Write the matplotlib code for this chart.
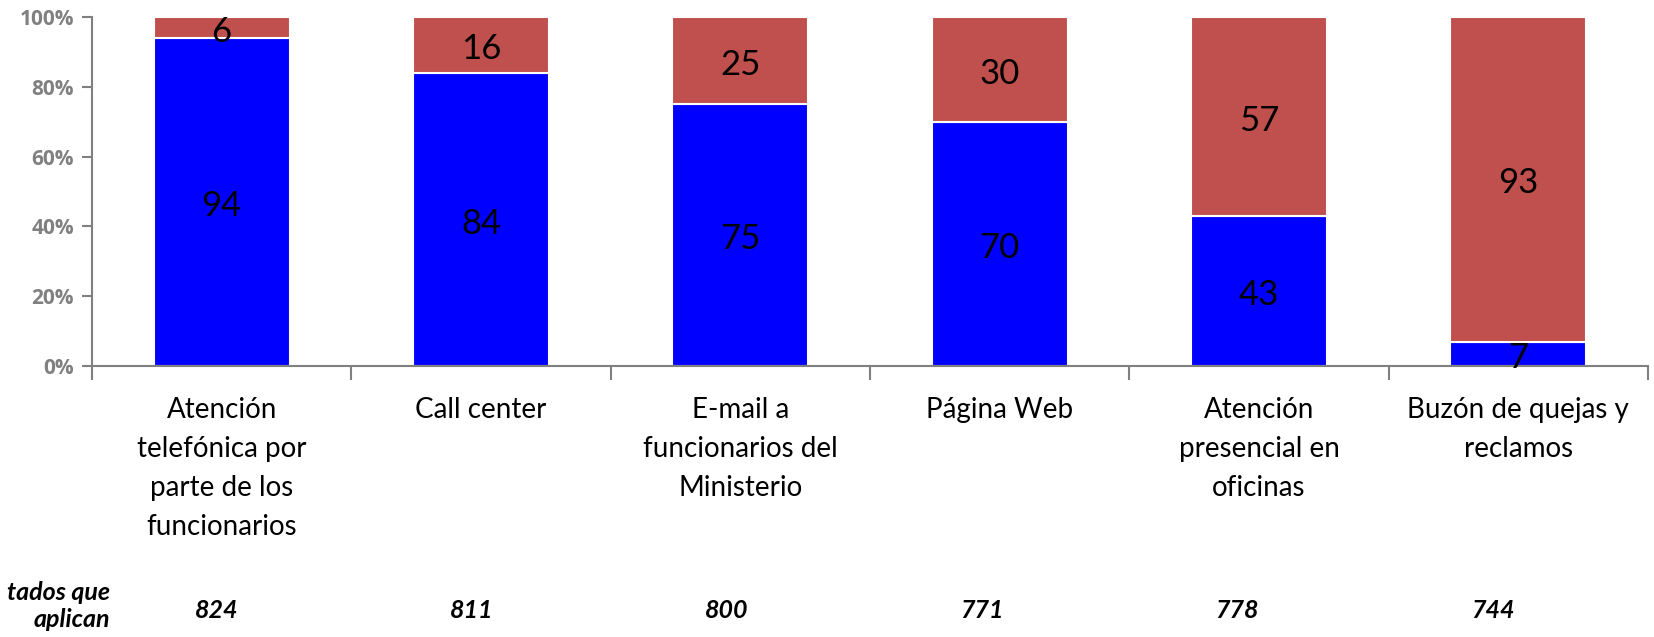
import numpy as np
import matplotlib.pyplot as plt

# Datos
categorias = ["Atención\ntelefónica por\nparte de los\nfuncionarios",
              "Call center",
              "E-mail a\nfuncionarios del\nMinisterio",
              "Página Web",
              "Atención\npresencial en\noficinas",
              "Buzón de quejas y\nreclamos"]
si = [94, 84, 75, 70, 43, 7]
no = [6, 16, 25, 30, 57, 93]
n_aplican = ["824", "811", "800", "771", "778", "744"]
yticks = [0, 20, 40, 60, 80, 100]
ytick_labels = ["0%", "20%", "40%", "60%", "80%", "100%"]

azul = "#0000FF"
rojo = "#C0504D"
gris = "#808080"

plt.rcParams['font.family'] = ['Lato', 'DejaVu Sans']

fig = plt.figure(figsize=(16.54, 6.37), dpi=100)
ax = fig.add_axes([0.0556, 0.4254, 0.9408, 0.5479])

x = np.arange(len(categorias))
ancho = 0.525
b1 = ax.bar(x, si, width=ancho, color=azul, edgecolor="white", linewidth=1.5)
b2 = ax.bar(x, no, width=ancho, bottom=si, color=rojo, edgecolor="white", linewidth=1.5)

# Etiquetas de los segmentos
etiquetas = ax.bar_label(b1, labels=[str(v) for v in si], label_type="center", fontsize=25, color="black")
etiquetas += ax.bar_label(b2, labels=[str(v) for v in no], label_type="center", fontsize=25, color="black")
for t in etiquetas:
    t.xyann = (0, -3)

ax.set_xlim(-0.5, len(categorias) - 0.5)
ax.set_ylim(0, 100)
ax.set_yticks(yticks, ytick_labels, fontweight="bold", fontsize=15, color=gris,
              family=["Open Sans", "DejaVu Sans"])
ax.tick_params(axis="y", colors=gris, length=7, width=1.5, pad=6)

ax.set_xticks(x)
ax.set_xticklabels(categorias, fontsize=20, linespacing=1.62, va="top")
ax.set_xticks(np.arange(-0.5, len(categorias)), minor=True)
ax.tick_params(axis="x", which="major", length=0, pad=22, labelcolor="black")
ax.tick_params(axis="x", which="minor", length=10, width=1.5, color=gris)

for s in ["top", "right"]:
    ax.spines[s].set_visible(False)
for s in ["left", "bottom"]:
    ax.spines[s].set_color(gris)
    ax.spines[s].set_linewidth(1.5)

# Fila inferior: encuestados que aplican
trans = ax.get_xaxis_transform()
for i, n in enumerate(n_aplican):
    ax.text(i - 0.02 - 0.016 * i, -0.70, n, transform=trans, ha="center", va="center",
            fontsize=18, fontweight="bold", fontstyle="italic", color="black")
fig.text(110 / 1654, 1 - 606 / 637, "tados que\naplican", ha="right", va="center",
         fontsize=18, fontweight="bold", fontstyle="italic", color="black", linespacing=1.25)

fig.savefig("out.png", dpi=100)
